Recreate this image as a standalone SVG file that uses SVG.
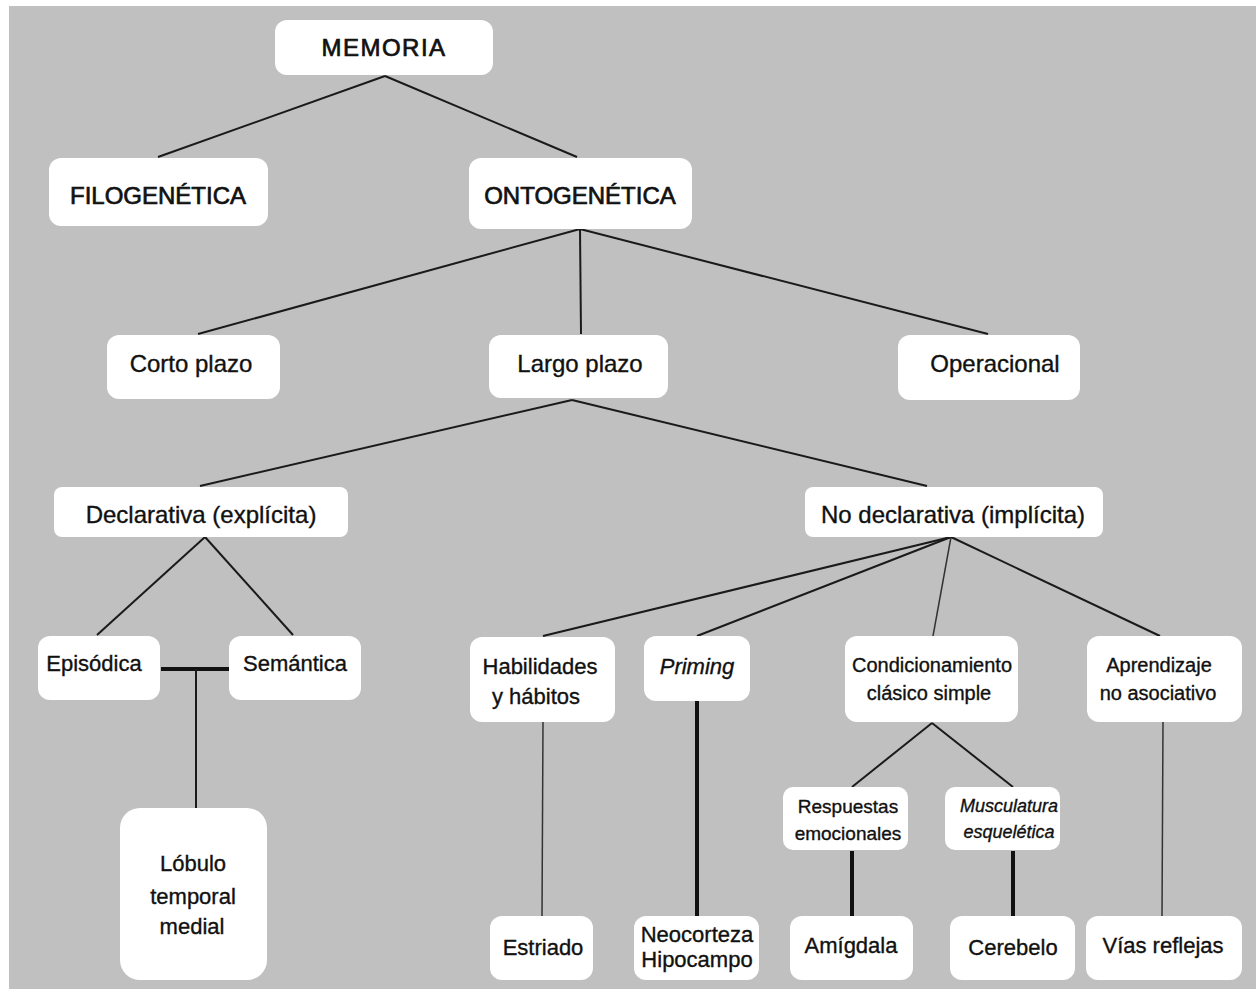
<svg xmlns="http://www.w3.org/2000/svg" width="1256" height="989" viewBox="0 0 1256 989">
<style>
.box{fill:#fff}
text{font-family:"Liberation Sans",Arial,sans-serif;fill:#111;stroke:#111;stroke-width:0.35;text-anchor:middle}
.t24{font-size:24px}
.t22{font-size:22px}
.t20{font-size:20px}
.t19{font-size:19px}
.t18{font-size:18px}
.hd{stroke-width:0.7}
.it{font-style:italic}
.ln{stroke:#1a1a1a;stroke-width:2;fill:none}
.thin{stroke:#333;stroke-width:1.5;fill:none}
.thick{stroke:#111;stroke-width:4;fill:none}
</style>
<rect x="0" y="0" width="1256" height="989" fill="#fff"/>
<rect x="9" y="6" width="1247" height="983" fill="#c0c0c0"/>
<g id="connectors">
<line class="ln" x1="385" y1="76" x2="158" y2="157"/>
<line class="ln" x1="385" y1="76" x2="577" y2="157"/>
<line class="ln" x1="580" y1="229" x2="198" y2="334"/>
<line class="ln" x1="580" y1="229" x2="581" y2="334"/>
<line class="ln" x1="580" y1="229" x2="988" y2="334"/>
<line class="ln" x1="572" y1="400" x2="200" y2="486"/>
<line class="ln" x1="572" y1="400" x2="927" y2="486"/>
<line class="ln" x1="205" y1="537" x2="97" y2="635"/>
<line class="ln" x1="205" y1="537" x2="293" y2="635"/>
<line class="thick" x1="161" y1="669" x2="229" y2="669"/>
<line class="ln" x1="196" y1="669" x2="196" y2="808"/>
<line class="ln" x1="951" y1="537" x2="543" y2="636"/>
<line class="ln" x1="951" y1="537" x2="697" y2="636"/>
<line class="thin" x1="951" y1="537" x2="933" y2="636"/>
<line class="ln" x1="951" y1="537" x2="1160" y2="636"/>
<line class="ln" x1="932" y1="723" x2="852" y2="787"/>
<line class="ln" x1="932" y1="723" x2="1013" y2="787"/>
<line class="thin" x1="543" y1="722" x2="542" y2="916"/>
<line class="thick" x1="697" y1="700" x2="697" y2="916"/>
<line class="thick" x1="852" y1="851" x2="852" y2="916"/>
<line class="thick" x1="1013" y1="851" x2="1013" y2="916"/>
<line class="thin" x1="1163" y1="722" x2="1162" y2="916"/>
</g>
<g id="memoria"><rect class="box" x="275" y="20" width="218" height="55" rx="12"/><text class="t24 hd" x="384" y="56" style="letter-spacing:1.5px">MEMORIA</text></g>
<g id="filogenetica"><rect class="box" x="49" y="158" width="219" height="68" rx="12"/><text class="t24 hd" x="158" y="204">FILOGENÉTICA</text></g>
<g id="ontogenetica"><rect class="box" x="469" y="158" width="223" height="71" rx="12"/><text class="t24 hd" x="580" y="204">ONTOGENÉTICA</text></g>
<g id="corto"><rect class="box" x="107" y="335" width="173" height="64" rx="12"/><text class="t24" x="191" y="372">Corto plazo</text></g>
<g id="largo"><rect class="box" x="489" y="335" width="179" height="63" rx="12"/><text class="t24" x="580" y="372">Largo plazo</text></g>
<g id="operacional"><rect class="box" x="898" y="335" width="182" height="65" rx="12"/><text class="t24" x="995" y="372">Operacional</text></g>
<g id="declarativa"><rect class="box" x="54" y="487" width="294" height="50" rx="8"/><text class="t24" x="201" y="523">Declarativa (explícita)</text></g>
<g id="nodeclarativa"><rect class="box" x="805" y="487" width="298" height="50" rx="8"/><text class="t24" x="953" y="523">No declarativa (implícita)</text></g>
<g id="episodica"><rect class="box" x="38" y="636" width="122" height="64" rx="12"/><text class="t22" x="94" y="671">Episódica</text></g>
<g id="semantica"><rect class="box" x="229" y="636" width="132" height="64" rx="12"/><text class="t22" x="295" y="671">Semántica</text></g>
<g id="lobulo"><rect class="box" x="120" y="808" width="147" height="172" rx="20"/><text class="t22" x="193" y="871">Lóbulo</text><text class="t22" x="193" y="904">temporal</text><text class="t22" x="192" y="934">medial</text></g>
<g id="habilidades"><rect class="box" x="470" y="637" width="145" height="85" rx="12"/><text class="t22" x="540" y="674">Habilidades</text><text class="t22" x="536" y="704">y hábitos</text></g>
<g id="priming"><rect class="box" x="644" y="636" width="106" height="65" rx="12"/><text class="t22 it" x="697" y="674">Priming</text></g>
<g id="condicionamiento"><rect class="box" x="845" y="636" width="173" height="86" rx="12"/><text class="t20" x="932" y="672">Condicionamiento</text><text class="t20" x="929" y="700">clásico simple</text></g>
<g id="aprendizaje"><rect class="box" x="1087" y="636" width="155" height="86" rx="12"/><text class="t20" x="1159" y="672">Aprendizaje</text><text class="t20" x="1158" y="700">no asociativo</text></g>
<g id="respuestas"><rect class="box" x="783" y="787" width="125" height="63" rx="10"/><text class="t19" x="848" y="813">Respuestas</text><text class="t19" x="848" y="840">emocionales</text></g>
<g id="musculatura"><rect class="box" x="945" y="787" width="115" height="63" rx="10"/><text class="t18 it" x="1009" y="812">Musculatura</text><text class="t18 it" x="1009" y="838">esquelética</text></g>
<g id="estriado"><rect class="box" x="490" y="916" width="103" height="64" rx="12"/><text class="t22" x="543" y="955">Estriado</text></g>
<g id="neocorteza"><rect class="box" x="634" y="916" width="125" height="64" rx="12"/><text class="t22" x="697" y="942">Neocorteza</text><text class="t22" x="697" y="967">Hipocampo</text></g>
<g id="amigdala"><rect class="box" x="790" y="916" width="123" height="64" rx="12"/><text class="t22" x="851" y="953">Amígdala</text></g>
<g id="cerebelo"><rect class="box" x="950" y="916" width="125" height="64" rx="12"/><text class="t22" x="1013" y="955">Cerebelo</text></g>
<g id="vias"><rect class="box" x="1086" y="916" width="156" height="64" rx="12"/><text class="t22" x="1163" y="953">Vías reflejas</text></g>
</svg>
